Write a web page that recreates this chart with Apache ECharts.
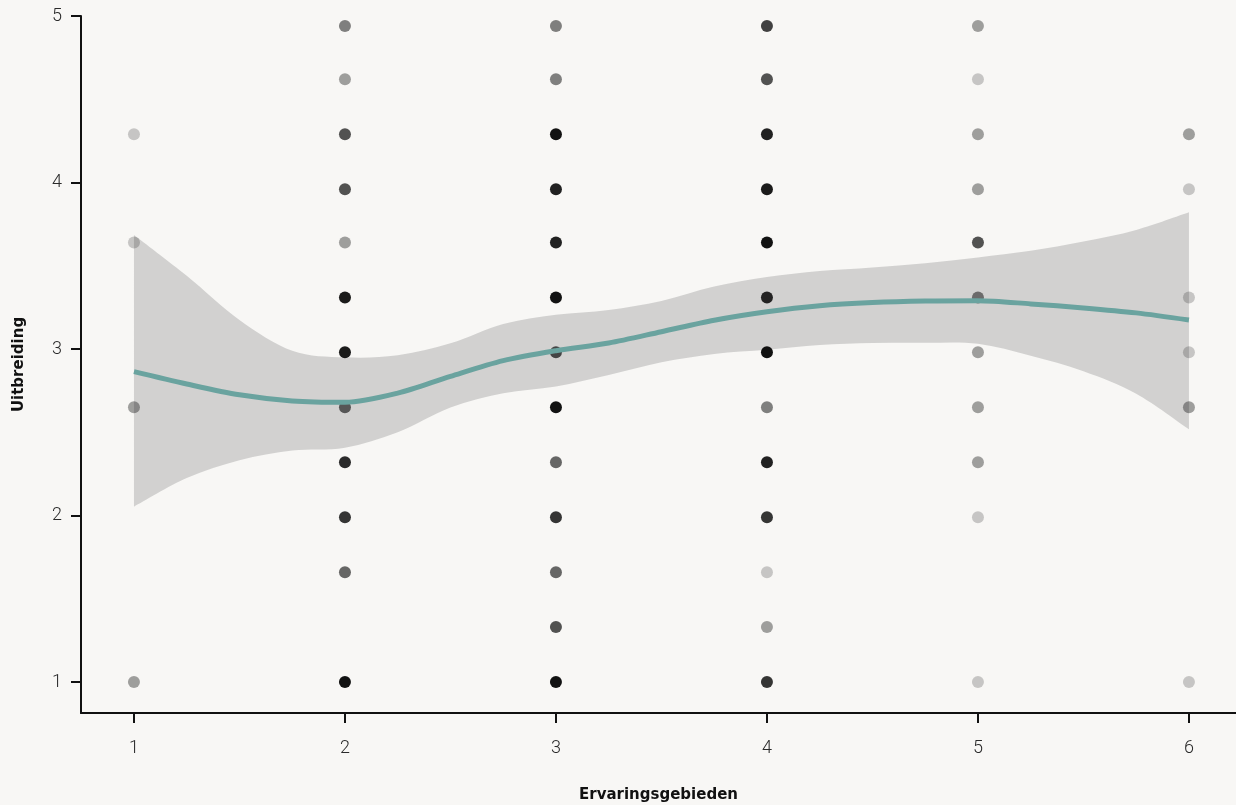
<!DOCTYPE html>
<html>
<head>
<meta charset="utf-8">
<script src="https://cdn.jsdelivr.net/npm/echarts@6/dist/echarts.min.js"></script>
<style>
html,body{margin:0;padding:0;background:#f8f7f5;}
#chart{width:1236px;height:805px;}
</style>
</head>
<body>
<div id="chart"></div>
<script>
// X categories (Ervaringsgebieden) and Y levels (Uitbreiding)
const xValues = [1, 2, 3, 4, 5, 6];
const yLevels = [1, 1.33, 1.66, 1.99, 2.32, 2.65, 2.98, 3.31, 3.64, 3.96, 4.29, 4.62, 4.94];
// number of overlapping observations at each level, per x value (0 = none)
const countsX1 = [2, 0, 0, 0, 0, 2, 0, 0, 1, 0, 1, 0, 0];
const countsX2 = [12, 0, 4, 7, 8, 4, 10, 10, 2, 5, 5, 2, 3];
const countsX3 = [12, 5, 4, 7, 4, 12, 5, 12, 9, 9, 12, 3, 3];
const countsX4 = [7, 2, 1, 7, 9, 3, 12, 8, 12, 10, 9, 5, 6];
const countsX5 = [1, 0, 0, 1, 2, 2, 2, 3, 5, 2, 2, 1, 2];
const countsX6 = [1, 0, 0, 0, 0, 2, 1, 1, 0, 1, 2, 0, 0];

// loess smooth with confidence band
const smoothX     = [1, 1.25, 1.5, 1.75, 2, 2.25, 2.5, 2.75, 3, 3.25, 3.5, 3.75, 4, 4.25, 4.5, 4.75, 5, 5.25, 5.5, 5.75, 6];
const smoothFit   = [2.864, 2.79, 2.725, 2.688, 2.68, 2.735, 2.836, 2.93, 2.99, 3.036, 3.104, 3.173, 3.224, 3.26, 3.279, 3.288, 3.29, 3.271, 3.247, 3.217, 3.174];
const smoothUpper = [3.685, 3.44, 3.175, 2.99, 2.95, 2.962, 3.034, 3.15, 3.206, 3.235, 3.289, 3.375, 3.432, 3.468, 3.49, 3.515, 3.55, 3.59, 3.645, 3.715, 3.821];
const smoothLower = [2.053, 2.225, 2.332, 2.39, 2.407, 2.5, 2.649, 2.734, 2.775, 2.844, 2.92, 2.97, 2.995, 3.024, 3.036, 3.038, 3.032, 2.96, 2.867, 2.732, 2.518];

const tickValuesX = [1, 2, 3, 4, 5, 6];
const tickValuesY = [1, 2, 3, 4, 5];

const allCounts = [countsX1, countsX2, countsX3, countsX4, countsX5, countsX6];
const scatterData = [];
allCounts.forEach((col, i) => {
  col.forEach((n, j) => {
    if (n > 0) scatterData.push([xValues[i], yLevels[j], n]);
  });
});

// Catmull-Rom -> cubic bezier path segments through pixel points
function curvePath(pts, moveFirst) {
  let d = (moveFirst ? 'M' : 'L') + pts[0][0] + ' ' + pts[0][1];
  for (let i = 0; i < pts.length - 1; i++) {
    const p0 = pts[i - 1] || pts[i];
    const p1 = pts[i];
    const p2 = pts[i + 1];
    const p3 = pts[i + 2] || p2;
    const c1x = p1[0] + (p2[0] - p0[0]) / 6, c1y = p1[1] + (p2[1] - p0[1]) / 6;
    const c2x = p2[0] - (p3[0] - p1[0]) / 6, c2y = p2[1] - (p3[1] - p1[1]) / 6;
    d += ' C' + c1x + ' ' + c1y + ' ' + c2x + ' ' + c2y + ' ' + p2[0] + ' ' + p2[1];
  }
  return d;
}

const chart = echarts.init(document.getElementById('chart'), null, {renderer: 'canvas'});
const tickFont = {fontFamily: 'Roboto, "DejaVu Sans", sans-serif', fontWeight: 300, fontSize: 18, color: '#2a2a2a'};
const nameFont = {fontFamily: '"DejaVu Sans", sans-serif', fontWeight: 'bold', fontSize: 15, color: '#111'};

chart.setOption({
  backgroundColor: '#f8f7f5',
  animation: false,
  grid: {left: 81, right: 0, top: 16, bottom: 92, containLabel: false, outerBoundsMode: 'none'},
  xAxis: {
    type: 'value',
    min: 0.749, max: 6.223,
    name: 'Ervaringsgebieden',
    nameLocation: 'middle',
    nameGap: 75,
    nameTextStyle: nameFont,
    axisLine: {show: true, onZero: false, lineStyle: {color: '#111', width: 2}},
    axisTick: {show: true, customValues: tickValuesX, length: 10, lineStyle: {color: '#111', width: 2}},
    axisLabel: Object.assign({show: true, customValues: tickValuesX, margin: 26}, tickFont),
    splitLine: {show: false}
  },
  yAxis: {
    type: 'value',
    min: 0.814, max: 5,
    name: 'Uitbreiding',
    nameLocation: 'middle',
    nameGap: 54,
    nameTextStyle: nameFont,
    axisLine: {show: true, onZero: false, lineStyle: {color: '#111', width: 2}},
    axisTick: {show: true, customValues: tickValuesY, length: 10, lineStyle: {color: '#111', width: 2}},
    axisLabel: Object.assign({show: true, customValues: tickValuesY, margin: 19}, tickFont),
    splitLine: {show: false}
  },
  series: [
    {
      type: 'scatter',
      data: scatterData,
      symbolSize: 12,
      itemStyle: {
        opacity: 1,
        color: p => 'rgba(0,0,0,' + (1 - Math.pow(0.8, p.data[2])).toFixed(3) + ')'
      },
      silent: true
    },
    {
      type: 'custom',
      data: [0],
      silent: true,
      renderItem: (params, api) => {
        const up = smoothX.map((x, i) => api.coord([x, smoothUpper[i]]));
        const lo = smoothX.map((x, i) => api.coord([x, smoothLower[i]])).reverse();
        const d = curvePath(up, true) + ' ' + curvePath(lo, false) + ' Z';
        return {
          type: 'path',
          shape: {pathData: d},
          style: {fill: 'rgba(153,153,153,0.4)', stroke: null}
        };
      }
    },
    {
      type: 'line',
      data: smoothX.map((x, i) => [x, smoothFit[i]]),
      smooth: 0.3,
      symbol: 'none',
      lineStyle: {color: '#6aa39f', width: 5},
      silent: true
    }
  ]
});
</script>
</body>
</html>
